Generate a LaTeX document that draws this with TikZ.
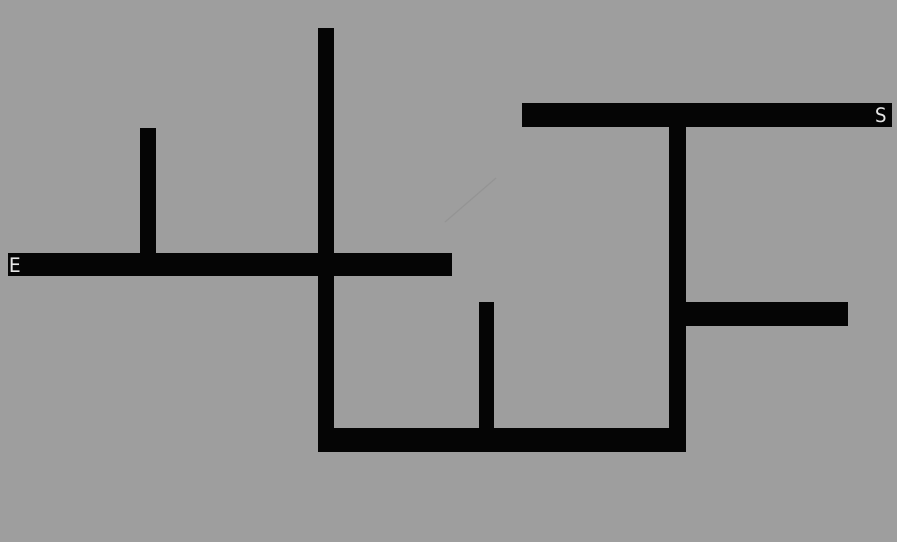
\documentclass[tikz,border=0pt]{standalone}
\usepackage{fontspec}
\setmainfont{DejaVu Sans Mono}
\definecolor{bggray}{HTML}{9E9E9E}
\definecolor{wallblk}{HTML}{050505}
\begin{document}
\begin{tikzpicture}[x=1pt,y=-1pt,
  wall/.style={fill=wallblk},
  lbl/.style={text=white!90!black,font=\fontsize{20}{20}\selectfont,inner sep=0pt}]
\fill[bggray] (0,0) rectangle (897,542);
\useasboundingbox (0,0) rectangle (897,542);
% faint pencil mark
\draw[black!45,line width=1.2pt,opacity=0.5] (445,222) -- (496,178);
% walls
\fill[wall] (8,253) rectangle (452,276);      % E corridor
\fill[wall] (140,128) rectangle (156,264);    % left stub
\fill[wall] (318,28) rectangle (334,452);     % tall vertical
\fill[wall] (318,428) rectangle (686,452);    % bottom bar
\fill[wall] (479,302) rectangle (494,440);    % middle stub
\fill[wall] (669,104) rectangle (686,452);    % right vertical
\fill[wall] (522,103) rectangle (892,127);    % S corridor
\fill[wall] (686,302) rectangle (848,326);    % right branch
% labels
\node[lbl] (E) at (15,265) {E};
\node[lbl] (S) at (881,115) {S};
\end{tikzpicture}
\end{document}
